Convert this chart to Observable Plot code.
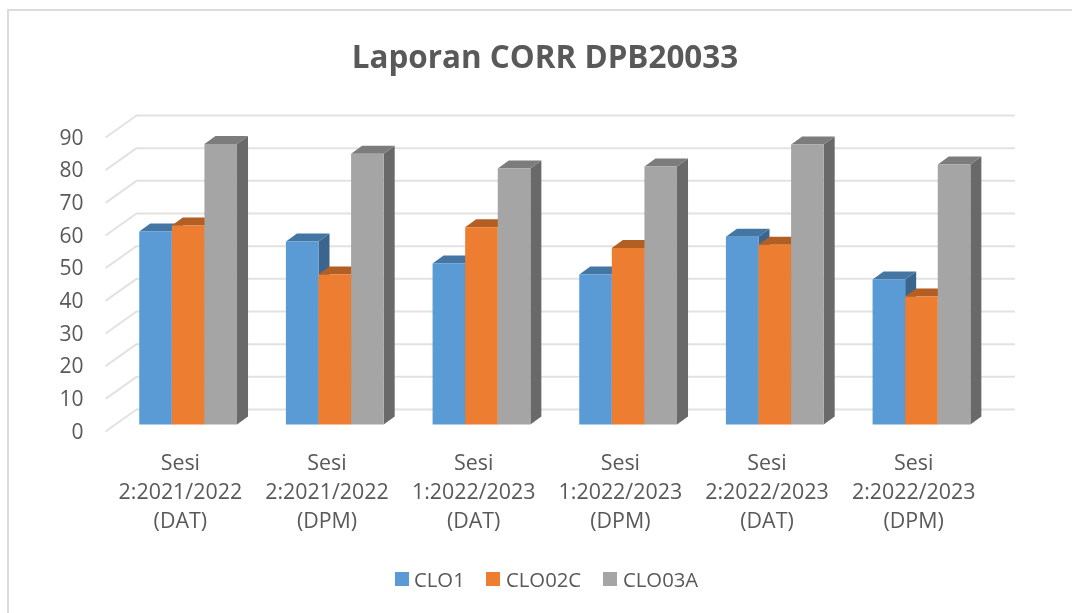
<!DOCTYPE html>
<html>
<head>
<meta charset="utf-8">
<script src="https://cdn.jsdelivr.net/npm/d3@7"></script>
<script src="https://cdn.jsdelivr.net/npm/@observablehq/plot@0.6"></script>
<style>
  html, body { margin: 0; padding: 0; background: #fff; }
  body { width: 1072px; height: 613px; overflow: hidden; position: relative; font-family: "Open Sans", sans-serif; color: #595959; }
  #frame { position: absolute; left: 7px; top: 9px; right: 0; bottom: -4px; border-left: 2px solid #dcdcdc; border-top: 2px solid #dcdcdc; }
  #title { position: absolute; left: 0; top: 0; width: 1090px; height: 90px; box-sizing: border-box; padding-top: 34px; text-align: center; font-size: 31.4px; line-height: 44px; font-weight: 700; margin: 0; color: #595959; filter: blur(0.4px); }
  #chart { position: absolute; left: 0; top: 90px; filter: blur(0.4px); }
  #legend { position: absolute; top: 563px; left: 395px; height: 32px; font-size: 20.3px; line-height: 32px; white-space: nowrap; filter: blur(0.3px); }
  #legend span.sw { position: absolute; top: 9px; width: 14px; height: 14px; }
  #legend span.lb { position: absolute; top: 0; }
</style>
</head>
<body>
<div id="frame"></div>
<h1 id="title">Laporan CORR DPB20033</h1>
<div id="chart"></div>
<div id="legend"></div>
<script>
const categories = [
  "Sesi\n2:2021/2022\n(DAT)",
  "Sesi\n2:2021/2022\n(DPM)",
  "Sesi\n1:2022/2023\n(DAT)",
  "Sesi\n1:2022/2023\n(DPM)",
  "Sesi\n2:2022/2023\n(DAT)",
  "Sesi\n2:2022/2023\n(DPM)"
];
const seriesNames = ["CLO1", "CLO02C", "CLO03A"];
const clo1   = [59.1, 56.0, 49.3, 45.9, 57.5, 44.4];
const clo02c = [60.9, 45.9, 60.4, 54.0, 55.0, 39.2];
const clo03a = [85.9, 82.9, 78.4, 79.0, 85.7, 79.6];
const seriesValues = [clo1, clo02c, clo03a];
const yTicks = [0, 10, 20, 30, 40, 50, 60, 70, 80, 90];

const frontColors = ["#5B9BD5", "#ED7D31", "#A5A5A5"];
const topColors   = ["#4476A3", "#B35E22", "#7C7C7C"];
const sideColors  = ["#3B658D", "#9D5020", "#696969"];

// scale frame and oblique projection, in data units
const pxX = 880 / 6, pxY = 294 / 90;
const barW = 1 / 4.5, barStart = 0.75 * barW - 0.7 / pxX;
const depthX = 11 / pxX, depthY = 8 / pxY;
const wallX = 21 / pxX, wallY = 15 / pxY, wallEnd = 6.136;
const floorX = -10 / pxX, floorY = -7 / pxY;

const faces = [];
categories.forEach((c, i) => {
  seriesValues.forEach((vals, s) => {
    const v = vals[i];
    const x0 = i + barStart + s * barW, x1 = x0 + barW;
    const add = (face, color, pts) => pts.forEach(([x, y]) => faces.push({id: `${i}-${s}-${face}`, x, y, color}));
    add("side", sideColors[s], [[x1, 0], [x1 + depthX, depthY], [x1 + depthX, v + depthY], [x1, v]]);
    add("top", topColors[s], [[x0, v], [x1, v], [x1 + depthX, v + depthY], [x0 + depthX, v + depthY]]);
    add("front", frontColors[s], [[x0, 0], [x1, 0], [x1, v], [x0, v]]);
  });
});

const plot = Plot.plot({
  width: 1072,
  height: 455,
  marginLeft: 115,
  marginRight: 77,
  marginTop: 40,
  marginBottom: 121,
  style: {fontFamily: "'Open Sans', sans-serif", color: "#595959", background: "transparent", overflow: "visible"},
  x: {domain: [0, 6], range: [115, 995]},
  y: {domain: [0, 90], range: [334, 40]},
  marks: [
    Plot.ruleY(yTicks, {y: d => d + wallY, x1: wallX, x2: wallEnd, stroke: "#e2e2e2", strokeWidth: 2}),
    Plot.link(yTicks, {x1: floorX, y1: d => d + floorY, x2: wallX, y2: d => d + wallY, stroke: "#e2e2e2", strokeWidth: 2}),
    Plot.line(faces, {x: "x", y: "y", z: "id", fill: "color", stroke: "none"}),
    Plot.axisY({ticks: yTicks, tickSize: 0, tickPadding: 32, dy: 7.5, fontSize: 21, label: null, fill: "#595959"}),
    Plot.axisX({
      ticks: categories.map((c, i) => i + 0.5),
      tickFormat: d => categories[d - 0.5],
      tickSize: 0,
      tickPadding: 25,
      dx: -8.5,
      fontSize: 21.4,
      lineHeight: 1.345,
      label: null,
      fill: "#595959"
    })
  ]
});
document.getElementById("chart").append(plot);

const legend = document.getElementById("legend");
const swatchLeft = [0, 91, 208];
const labelLeft = [19, 111, 228];
seriesNames.forEach((n, s) => {
  const sw = document.createElement("span");
  sw.className = "sw";
  sw.style.left = swatchLeft[s] + "px";
  sw.style.background = frontColors[s];
  const lb = document.createElement("span");
  lb.className = "lb";
  lb.style.left = labelLeft[s] + "px";
  lb.textContent = n;
  legend.append(sw, lb);
});
</script>
</body>
</html>
